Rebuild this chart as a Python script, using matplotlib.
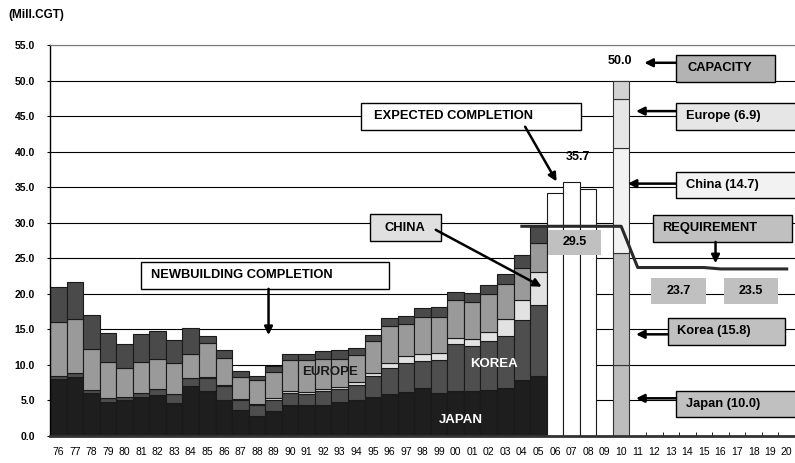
import numpy as np
import matplotlib.pyplot as plt
from matplotlib.patches import Rectangle

plt.rcParams['font.family'] = ['Liberation Sans', 'DejaVu Sans']

years = ['76', '77', '78', '79', '80', '81', '82', '83', '84', '85',
         '86', '87', '88', '89', '90', '91', '92', '93', '94', '95',
         '96', '97', '98', '99', '00', '01', '02', '03', '04', '05',
         '06', '07', '08', '09', '10', '11', '12', '13', '14', '15',
         '16', '17', '18', '19', '20']

# newbuilding completions 1976-2005 (Mill.CGT)
japan = [8.0, 8.3, 6.0, 4.8, 5.1, 5.5, 5.7, 4.7, 7.1, 6.4,
         5.0, 3.7, 2.8, 3.5, 4.3, 4.3, 4.3, 4.8, 5.1, 5.5,
         5.9, 6.2, 6.7, 6.1, 6.3, 6.3, 6.5, 6.8, 7.9, 8.4]
korea = [0.4, 0.5, 0.5, 0.6, 0.4, 0.6, 0.9, 1.2, 1.0, 1.7,
         2.0, 1.3, 1.6, 1.6, 1.7, 1.6, 2.0, 1.8, 2.1, 2.9,
         3.6, 4.0, 3.8, 4.6, 6.6, 6.3, 6.8, 7.2, 8.4, 10.0]
china = [0.0, 0.0, 0.0, 0.0, 0.0, 0.0, 0.0, 0.0, 0.0, 0.2,
         0.2, 0.2, 0.15, 0.2, 0.3, 0.3, 0.3, 0.3, 0.4, 0.5,
         0.7, 1.05, 1.0, 1.0, 0.9, 1.1, 1.3, 2.5, 2.9, 4.6]
europe = [7.7, 7.6, 5.8, 5.0, 4.0, 4.3, 4.3, 4.3, 3.4, 4.8,
          3.8, 3.1, 3.35, 3.7, 4.4, 4.5, 4.3, 4.0, 3.8, 4.4,
          5.3, 4.55, 5.3, 5.1, 5.3, 5.2, 5.4, 4.9, 4.5, 4.1]
others = [4.8, 5.2, 4.7, 4.1, 3.4, 3.9, 3.9, 3.3, 3.7, 1.0,
          1.1, 0.9, 0.6, 0.9, 0.9, 0.8, 1.1, 1.2, 1.0, 0.9,
          1.1, 1.1, 1.2, 1.3, 1.2, 1.2, 1.2, 1.4, 1.7, 2.4]

# expected completion 2006-2008
expected = [34.2, 35.7, 34.7]

# 2010 capacity: Japan, Korea, China, Europe, others
capacity = [10.0, 15.8, 14.7, 6.9, 2.6]

# requirement 2004-2020
requirement = [29.5, 29.5, 29.5, 29.5, 29.5, 29.5, 29.5,
               23.7, 23.7, 23.7, 23.7, 23.7,
               23.5, 23.5, 23.5, 23.5, 23.5]

x = np.arange(len(years))
hist_x = x[:len(japan)]
exp_x = x[30:33]
cap_x = years.index('10')
req_x = x[years.index('04'):]

fig = plt.figure(figsize=(7.95, 4.63), dpi=100)
ax = fig.add_axes([50 / 795, 27 / 463, 745 / 795, 391 / 463])

edge = '#1a1a1a'
bottom = np.zeros(len(japan))
for vals, col in [(japan, '#1e1e1e'), (korea, '#4e4e4e'), (china, '#e2e2e2'),
                  (europe, '#9a9a9a'), (others, '#4a4a4a')]:
    ax.bar(hist_x, vals, 1.0, bottom=bottom, color=col, edgecolor=edge,
           linewidth=0.8, zorder=2)
    bottom += np.array(vals)

ax.bar(exp_x, expected, 1.0, color='white', edgecolor=edge, linewidth=0.8, zorder=2)

cb = 0.0
for val, col in zip(capacity, ['#bdbdbd', '#bdbdbd', '#f2f2f2', '#e6e6e6', '#d2d2d2']):
    ax.bar(cap_x, val, 1.0, bottom=cb, color=col, edgecolor='#333333',
           linewidth=0.8, zorder=2)
    cb += val

ax.plot(req_x, requirement, color='#2a2a2a', lw=2.2, zorder=3)

ax.set_xlim(-0.5, len(years) - 0.5)
ax.set_ylim(0, 55)
ax.set_yticks(np.arange(0, 56, 5))
ax.set_yticklabels([f'{v:.1f}' for v in np.arange(0, 56, 5)],
                   fontsize=7.5, fontweight='bold')
ax.set_xticks(x)
ax.set_xticklabels(years, fontsize=7.5)
ax.set_xticks(np.arange(-0.5, len(years)), minor=True)
ax.tick_params(axis='x', which='major', length=0, pad=8)
ax.tick_params(axis='x', which='minor', length=3, direction='in')
ax.tick_params(axis='y', length=2, pad=9)
ax.set_axisbelow(True)
ax.yaxis.grid(True, color='black', lw=0.8)
ax.spines['right'].set_visible(False)
ax.spines['top'].set_color('#777777')
ax.spines['left'].set_linewidth(1.0)
ax.spines['bottom'].set_linewidth(2.0)
ax.spines['bottom'].set_color('#333333')

fig.text(0.011, 1 - 15 / 463, '(Mill.CGT)', fontsize=8.5, fontweight='bold',
         va='center', ha='left')


def box(x0, y0, x1, y1, text, fc, ec='black', tx=None, ha='left', size=9.3):
    ax.add_patch(Rectangle((x0, y0), x1 - x0, y1 - y0, facecolor=fc,
                           edgecolor=ec, lw=1.0, zorder=4, clip_on=False))
    if tx is None:
        tx = (x0 + x1) / 2
        ha = 'center'
    ax.text(tx, (y0 + y1) / 2, text, fontsize=size, fontweight='bold',
            ha=ha, va='center', zorder=5, clip_on=False)


def arrow(x0, y0, x1, y1, lw=1.8):
    ax.annotate('', xy=(x1, y1), xytext=(x0, y0), zorder=6,
                arrowprops=dict(arrowstyle='-|>', color='black', lw=lw,
                                mutation_scale=12, shrinkA=0, shrinkB=0),
                annotation_clip=False)


box(5.0, 20.7, 20.0, 24.5, 'NEWBUILDING COMPLETION', 'white', tx=5.6)
arrow(12.7, 20.7, 12.7, 14.2)

box(18.3, 43.1, 31.6, 46.8, 'EXPECTED COMPLETION', 'white', tx=19.1)
arrow(28.2, 43.5, 30.1, 35.8)

box(18.8, 27.4, 23.1, 31.2, 'CHINA', '#e0e0e0')
arrow(22.8, 29.0, 29.2, 21.0)

ax.text(16.4, 9.0, 'EUROPE', fontsize=9.5, fontweight='bold', color='#1a1a1a',
        ha='center', va='center', zorder=5)
ax.text(26.3, 10.1, 'KOREA', fontsize=9.5, fontweight='bold', color='white',
        ha='center', va='center', zorder=5)
ax.text(24.3, 2.2, 'JAPAN', fontsize=9.5, fontweight='bold', color='white',
        ha='center', va='center', zorder=5)

ax.text(31.4, 39.3, f'{expected[1]:.1f}', fontsize=9, fontweight='bold',
        ha='center', va='center', zorder=5)
box(29.6, 25.5, 32.8, 29.0, f'{requirement[0]:.1f}', '#c0c0c0', ec='none', size=9)

ax.text(33.9, 52.7, f'{sum(capacity):.1f}', fontsize=9, fontweight='bold',
        ha='center', va='center', zorder=5, clip_on=False)
box(37.3, 49.8, 43.3, 53.6, 'CAPACITY', '#b3b3b3', tx=38.0)
arrow(37.3, 52.5, 35.4, 52.5)

box(37.3, 43.1, 44.6, 46.9, f'Europe ({capacity[3]})', '#e6e6e6', tx=37.9)
arrow(37.3, 45.7, 34.9, 45.7)

box(37.3, 33.5, 44.6, 37.1, f'China ({capacity[2]})', '#f2f2f2', tx=37.9)
arrow(37.3, 35.5, 34.4, 35.5)

box(35.9, 27.3, 44.3, 31.1, 'REQUIREMENT', '#c0c0c0', tx=36.5)
arrow(39.7, 27.3, 39.7, 24.3)

box(35.8, 18.6, 39.1, 22.2, f'{requirement[7]:.1f}', '#c0c0c0', ec='none', size=9)
box(40.2, 18.6, 43.5, 22.2, f'{requirement[-1]:.1f}', '#c0c0c0', ec='none', size=9)

box(36.8, 12.8, 43.9, 16.6, f'Korea ({capacity[1]})', '#c0c0c0', tx=37.4)
arrow(36.8, 14.3, 34.9, 14.3)

box(37.3, 2.7, 44.6, 6.4, f'Japan ({capacity[0]})', '#c0c0c0', tx=37.9)
arrow(37.3, 5.3, 34.9, 5.3)

fig.savefig('out.png', dpi=100)
